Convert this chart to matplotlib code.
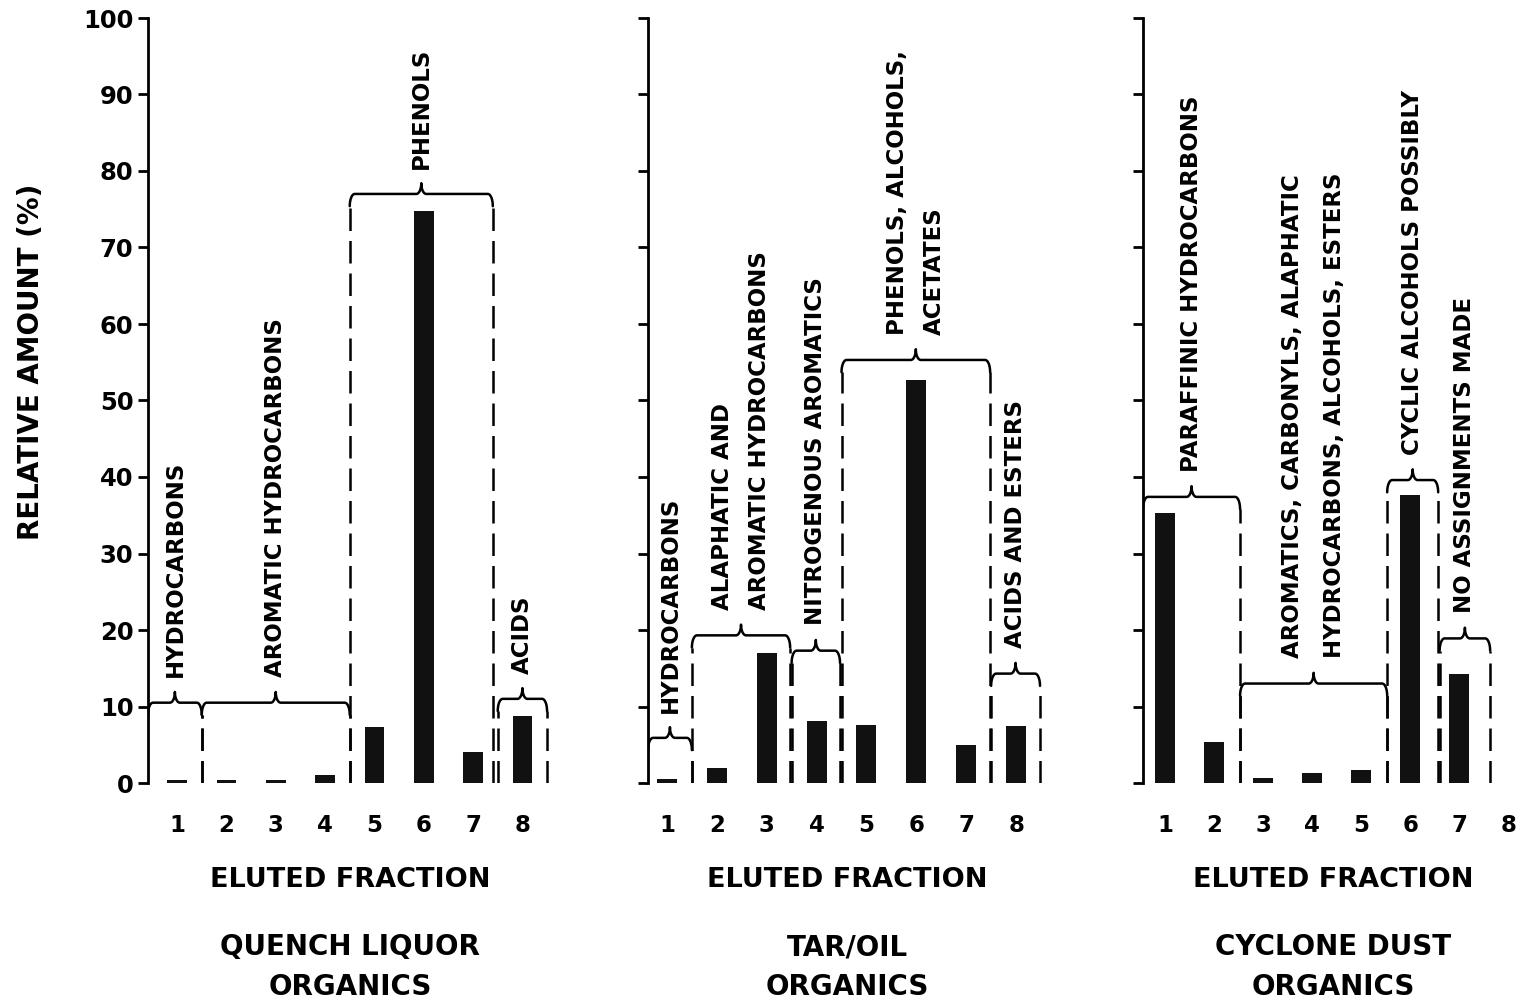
import numpy as np
import matplotlib.pyplot as plt

plt.rcParams['font.family'] = 'DejaVu Sans'

# eluted fraction numbers (x axis)
fractions = np.arange(1, 9)

# relative amounts (%)
quench_vals = [0.4, 0.4, 0.4, 1.0, 7.3, 74.8, 4.0, 8.7]
tar_vals = [0.5, 2.0, 17.0, 8.1, 7.6, 52.7, 5.0, 7.5]
dust_vals = [35.3, 5.3, 0.7, 1.3, 1.7, 37.6, 14.3, 0.0]

# compound-class groups: left edge, right edge, bracket height, label
quench_lo = [0.41, 1.5, 4.5, 7.5]
quench_hi = [1.5, 4.5, 7.4, 8.5]
quench_h = [10.5, 10.5, 77.0, 11.0]
quench_labels = ["HYDROCARBONS", "AROMATIC HYDROCARBONS", "PHENOLS", "ACIDS"]

tar_lo = [0.62, 1.5, 3.5, 4.5, 7.5]
tar_hi = [1.5, 3.47, 4.47, 7.48, 8.48]
tar_h = [5.9, 19.3, 17.3, 55.3, 14.3]
tar_labels = ["HYDROCARBONS", "ALAPHATIC AND\nAROMATIC HYDROCARBONS",
              "NITROGENOUS AROMATICS", "PHENOLS, ALCOHOLS,\nACETATES",
              "ACIDS AND ESTERS"]

dust_lo = [0.55, 2.53, 5.53, 6.6]
dust_hi = [2.53, 5.53, 6.57, 7.63]
dust_h = [37.4, 13.0, 39.6, 18.9]
dust_labels = ["PARAFFINIC HYDROCARBONS",
               "AROMATICS, CARBONYLS, ALAPHATIC\nHYDROCARBONS, ALCOHOLS, ESTERS",
               "CYCLIC ALCOHOLS POSSIBLY", "NO ASSIGNMENTS MADE"]

panel_titles = ["QUENCH LIQUOR\nORGANICS", "TAR/OIL\nORGANICS", "CYCLONE DUST\nORGANICS"]

W, H = 1523, 1005
fig = plt.figure(figsize=(W / 100, H / 100), dpi=100)


def draw_brace(ax, x0, x1, h, label, xmin, lsp, dx=0.1, dy=1.6, peak=1.4):
    xm = (x0 + x1) / 2
    t = np.linspace(0, np.pi / 2, 12)
    xs = np.concatenate([
        x0 + dx - dx * np.cos(t),            # left corner
        xm - dx + dx * np.sin(t),            # rising to the tip
        (xm + dx - dx * np.sin(t))[::-1],    # falling from the tip
        (x1 - dx + dx * np.cos(t))[::-1],    # right corner
    ])
    ys = np.concatenate([
        h - dy + dy * np.sin(t),
        h + peak - peak * np.cos(t),
        (h + peak - peak * np.cos(t))[::-1],
        (h - dy + dy * np.sin(t))[::-1],
    ])
    ax.plot(xs, ys, color='black', lw=1.8, solid_capstyle='round')
    for xe in (x0, x1):
        if abs(xe - xmin) > 0.02:
            ax.plot([xe, xe], [0, h - dy], color='black', lw=1.8,
                    linestyle=(0, (9, 4)))
    ax.text(xm, h + 3.3, label, rotation=90, ha='center', va='bottom',
            fontsize=16.5, fontweight='bold', multialignment='left',
            linespacing=lsp)


panels = [
    (148, 552, 0.41, 8.6, 1.8, quench_vals, quench_lo, quench_hi, quench_h, quench_labels),
    (648, 1046, 0.62, 8.6, 1.75, tar_vals, tar_lo, tar_hi, tar_h, tar_labels),
    (1143, 1523, 0.55, 8.3, 2.05, dust_vals, dust_lo, dust_hi, dust_h, dust_labels),
]

for i, (px0, px1, xmin, xmax, lsp, vals, lo, hi, hts, labels) in enumerate(panels):
    ax = fig.add_axes([px0 / W, (H - 783) / H, (px1 - px0) / W, 765 / H])
    ax.bar(fractions, vals, width=0.4, color='#111111')
    for x0, x1, h, lab in zip(lo, hi, hts, labels):
        draw_brace(ax, x0, x1, h, lab, xmin, lsp)

    ax.set_xlim(xmin, xmax)
    ax.set_ylim(0, 100)
    ax.set_xticks(fractions)
    ax.set_yticks(np.arange(0, 101, 10))
    for s in ('top', 'right', 'bottom'):
        ax.spines[s].set_visible(False)
    ax.spines['left'].set_linewidth(2.0)
    ax.tick_params(axis='x', length=0, pad=22, labelsize=16.5)
    ax.tick_params(axis='y', length=7, width=2.0, direction='out', labelsize=17.5)
    for lab in ax.get_xticklabels() + ax.get_yticklabels():
        lab.set_fontweight('bold')
    if i > 0:
        ax.set_yticklabels([])
    else:
        ax.set_ylabel("RELATIVE AMOUNT (%)", fontsize=20, fontweight='bold')
        ax.yaxis.set_label_coords(-0.255, 0.55)

    ax.text(0.5, -0.127, "ELUTED FRACTION", transform=ax.transAxes,
            ha='center', va='center', fontsize=19.5, fontweight='bold')
    ax.text(0.5, -0.241, panel_titles[i], transform=ax.transAxes,
            ha='center', va='center', fontsize=20, fontweight='bold',
            linespacing=1.55)

fig.savefig('out.png', dpi=100)
